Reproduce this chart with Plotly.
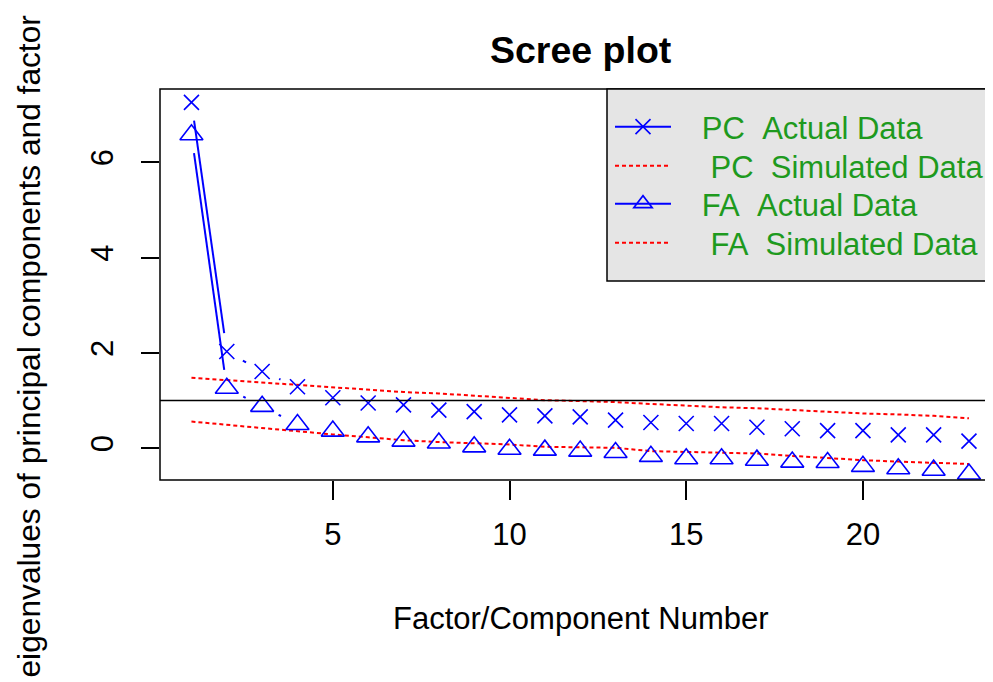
import math
import plotly.graph_objects as go

# ---------------- data ----------------
factor_number = list(range(1, 24))
pc_actual = [7.26, 2.03, 1.61, 1.29, 1.06, 0.95, 0.91, 0.80, 0.77, 0.70, 0.68, 0.66,
             0.59, 0.54, 0.52, 0.52, 0.44, 0.41, 0.37, 0.37, 0.28, 0.28, 0.15]
pc_simulated = [1.48, 1.43, 1.37, 1.33, 1.28, 1.23, 1.18, 1.15, 1.10, 1.05, 1.01, 0.99,
                0.97, 0.93, 0.89, 0.86, 0.84, 0.80, 0.77, 0.73, 0.71, 0.68, 0.63]
fa_actual = [6.58, 1.26, 0.88, 0.50, 0.36, 0.24, 0.15, 0.11, 0.03, -0.02, -0.04, -0.06,
             -0.09, -0.17, -0.22, -0.22, -0.25, -0.29, -0.30, -0.38, -0.43, -0.46, -0.54]
fa_simulated = [0.56, 0.49, 0.42, 0.36, 0.29, 0.23, 0.17, 0.13, 0.10, 0.08, 0.03, 0.02,
                0.01, -0.06, -0.08, -0.09, -0.11, -0.16, -0.21, -0.25, -0.28, -0.30, -0.33]
x_ticks = [5, 10, 15, 20]
y_ticks = [0, 2, 4, 6]
legend_labels = ["PC  Actual Data", " PC  Simulated Data", "FA  Actual Data", " FA  Simulated Data"]
title_text = "Scree plot"
x_title = "Factor/Component Number"
y_title = "eigenvalues of principal components and factor analysis"

# ---------------- layout geometry (page pixels) ----------------
W, H = 993, 682
OFF = 8  # the page body margin shifts the figure by 8px
PLOT_L, PLOT_R, PLOT_T, PLOT_B = 160, 993 + OFF, 89, 480
X_RANGE = [0.11, 23.68 + OFF / 35.34]
Y_RANGE = [-0.666, 7.54]
GAP_PX = 18.5
FONT = "Liberation Sans, Arial, sans-serif"
BLUE, RED, GREEN = "#0000FF", "#FF0000", "#1E9A1E"


def px_x(v):
    return (v - OFF) / W


def px_y(v):
    return 1 - (v - OFF) / H


def gapped(xs, ys):
    """R type='b' lines: segments between points with a gap around each point."""
    sx = (PLOT_R - PLOT_L) / (X_RANGE[1] - X_RANGE[0])
    sy = (PLOT_B - PLOT_T) / (Y_RANGE[1] - Y_RANGE[0])
    ox, oy = [], []
    for i in range(len(xs) - 1):
        ddx, ddy = xs[i + 1] - xs[i], ys[i + 1] - ys[i]
        L = math.hypot(ddx * sx, ddy * sy)
        f = GAP_PX / L
        if f < 0.5:
            ox += [xs[i] + f * ddx, xs[i + 1] - f * ddx, None]
            oy += [ys[i] + f * ddy, ys[i + 1] - f * ddy, None]
    return ox, oy


fig = go.Figure()

# simulated (red dotted)
fig.add_trace(go.Scatter(x=factor_number, y=pc_simulated, mode="lines",
                         line=dict(color=RED, width=2, dash="4px,3px"),
                         showlegend=False, hoverinfo="skip"))
fig.add_trace(go.Scatter(x=factor_number, y=fa_simulated, mode="lines",
                         line=dict(color=RED, width=2, dash="4px,3px"),
                         showlegend=False, hoverinfo="skip"))

# actual (blue, points + gapped lines)
for ys, sym, size in [(pc_actual, "x-thin", 15), (fa_actual, "triangle-up-open", 20)]:
    gx, gy = gapped(factor_number, ys)
    fig.add_trace(go.Scatter(x=gx, y=gy, mode="lines", line=dict(color=BLUE, width=2),
                             showlegend=False, hoverinfo="skip"))
    fig.add_trace(go.Scatter(x=factor_number, y=ys, mode="markers",
                             marker=dict(symbol=sym, size=size, color=BLUE,
                                         line=dict(color=BLUE, width=1.6)),
                             showlegend=False))

# legend entries (one legend per row to match R's row spacing)
legend_rows = [127, 166, 204, 243]
legend_styles = [
    dict(mode="lines+markers", line=dict(color=BLUE, width=2),
         marker=dict(symbol="x-thin", size=15, color=BLUE, line=dict(color=BLUE, width=1.6))),
    dict(mode="lines", line=dict(color=RED, width=2, dash="4px,3px")),
    dict(mode="lines+markers", line=dict(color=BLUE, width=2),
         marker=dict(symbol="triangle-up-open", size=16, color=BLUE, line=dict(color=BLUE, width=1.6))),
    dict(mode="lines", line=dict(color=RED, width=2, dash="4px,3px")),
]
legend_ids = ["legend", "legend2", "legend3", "legend4"]
for lab, st, lid in zip(legend_labels, legend_styles, legend_ids):
    pad = "\u00a0" * 3 + lab.replace(" ", "\u00a0")
    fig.add_trace(go.Scatter(x=[None], y=[None], name=pad, legend=lid, showlegend=True, **st))

legend_common = dict(bgcolor="rgba(0,0,0,0)", borderwidth=0, xanchor="left", yanchor="middle",
                     itemwidth=56, font=dict(family=FONT, size=31, color=GREEN))
layout_legends = {}
for lid, row in zip(legend_ids, legend_rows):
    layout_legends[lid] = dict(x=px_x(610), y=px_y(row), **legend_common)

fig.update_layout(
    width=W, height=H,
    margin=dict(l=0, r=0, t=0, b=0),
    paper_bgcolor="white", plot_bgcolor="white",
    font=dict(family=FONT, size=31, color="black"),
    xaxis=dict(domain=[px_x(PLOT_L), 1.0], range=X_RANGE,
               tickvals=x_ticks, ticks="outside", ticklen=19, tickwidth=1.5, tickcolor="black",
               showgrid=False, zeroline=False, showline=False,
               tickfont=dict(family=FONT, size=31, color="black"), ticklabelstandoff=8),
    yaxis=dict(domain=[px_y(PLOT_B), px_y(PLOT_T)], range=Y_RANGE,
               tickvals=y_ticks, ticks="outside", ticklen=18, tickwidth=1.5, tickcolor="black",
               showgrid=False, zeroline=False, showline=False, tickangle=-90,
               tickfont=dict(family=FONT, size=31, color="black"), ticklabelstandoff=16),
    **layout_legends,
)

# plot box, reference line, legend box
fig.add_shape(type="rect", xref="paper", yref="paper",
              x0=px_x(PLOT_L), x1=px_x(1001 + OFF), y0=px_y(PLOT_B), y1=px_y(PLOT_T),
              line=dict(color="black", width=1.5), fillcolor="rgba(0,0,0,0)", layer="above")
fig.add_shape(type="line", xref="x domain", yref="y", x0=0, x1=1, y0=1, y1=1,
              line=dict(color="black", width=1.5), layer="above")
fig.add_shape(type="rect", xref="paper", yref="paper",
              x0=px_x(607), x1=px_x(1001 + OFF), y0=px_y(281), y1=px_y(PLOT_T),
              line=dict(color="black", width=1.5), fillcolor="#E5E5E5", layer="above")

# titles
fig.add_annotation(text="<b>%s</b>" % title_text, xref="paper", yref="paper",
                   x=px_x(580.5), y=px_y(50), xanchor="center", yanchor="middle",
                   showarrow=False, font=dict(family=FONT, size=37.5, color="black"))
fig.add_annotation(text=x_title, xref="paper", yref="paper",
                   x=px_x(580.5), y=px_y(618), xanchor="center", yanchor="middle",
                   showarrow=False, font=dict(family=FONT, size=31, color="black"))
fig.add_annotation(text=y_title, xref="paper", yref="paper", textangle=-90,
                   x=px_x(28), y=px_y(284.5), xanchor="center", yanchor="middle",
                   showarrow=False, font=dict(family=FONT, size=31.7, color="black"))

fig.write_html("out.html")
